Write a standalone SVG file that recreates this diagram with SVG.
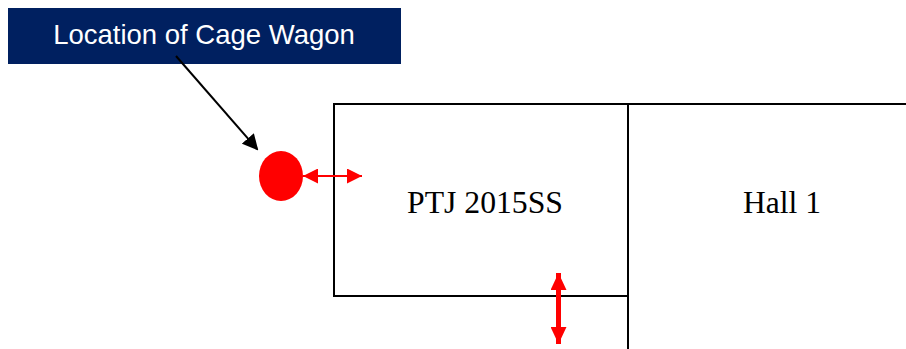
<svg xmlns="http://www.w3.org/2000/svg" width="906" height="349" viewBox="0 0 906 349">
<style>
.wall{fill:none;stroke:#000;stroke-width:2}
.lbl{font-family:"Liberation Serif","Times New Roman",serif;font-size:31px;fill:#000;text-anchor:middle}
.red{stroke:#ff0000;fill:none}
</style>
<defs>
<marker id="ab" markerWidth="8" markerHeight="8" refX="7" refY="4" orient="auto" markerUnits="strokeWidth">
<path d="M0,0 L8,4 L0,8 Z" fill="#000"/>
</marker>
<marker id="ar" viewBox="0 0 10 10" markerWidth="15" markerHeight="15" refX="10" refY="5" orient="auto-start-reverse" markerUnits="userSpaceOnUse">
<path d="M0,0 L10,5 L0,10 Z" fill="#ff0000"/>
</marker>
<marker id="ar2" viewBox="0 0 17 16" markerWidth="17" markerHeight="16" refX="17" refY="8" orient="auto-start-reverse" markerUnits="userSpaceOnUse">
<path d="M0,0 L17,8 L0,16 Z" fill="#ff0000"/>
</marker>
</defs>
<rect width="906" height="349" fill="#fff"/>
<g id="label">
<rect x="8" y="8" width="393" height="56" fill="#002060"/>
<text x="204" y="44" font-family="'Liberation Sans',Arial,sans-serif" font-size="27.5" fill="#fff" text-anchor="middle">Location of Cage Wagon</text>
</g>
<g id="ptj">
<rect class="wall" x="334" y="104" width="294" height="192"/>
<text class="lbl" x="485" y="213" textLength="156" lengthAdjust="spacingAndGlyphs">PTJ 2015SS</text>
</g>
<g id="hall1">
<path class="wall" d="M628,104 H906 M628,104 V349"/>
<text class="lbl" x="782" y="213" textLength="78" lengthAdjust="spacingAndGlyphs">Hall 1</text>
</g>
<g id="wagon">
<ellipse cx="281" cy="176" rx="22" ry="25" fill="#ff0000"/>
</g>
<g id="connectors">
<line x1="176" y1="56" x2="257" y2="149" stroke="#000" stroke-width="2" marker-end="url(#ab)"/>
<line class="red" x1="303" y1="176" x2="362" y2="176" stroke-width="2" marker-start="url(#ar)" marker-end="url(#ar)"/>
<line class="red" x1="558.5" y1="273" x2="558.5" y2="344" stroke-width="5" marker-start="url(#ar2)" marker-end="url(#ar2)"/>
</g>
</svg>
